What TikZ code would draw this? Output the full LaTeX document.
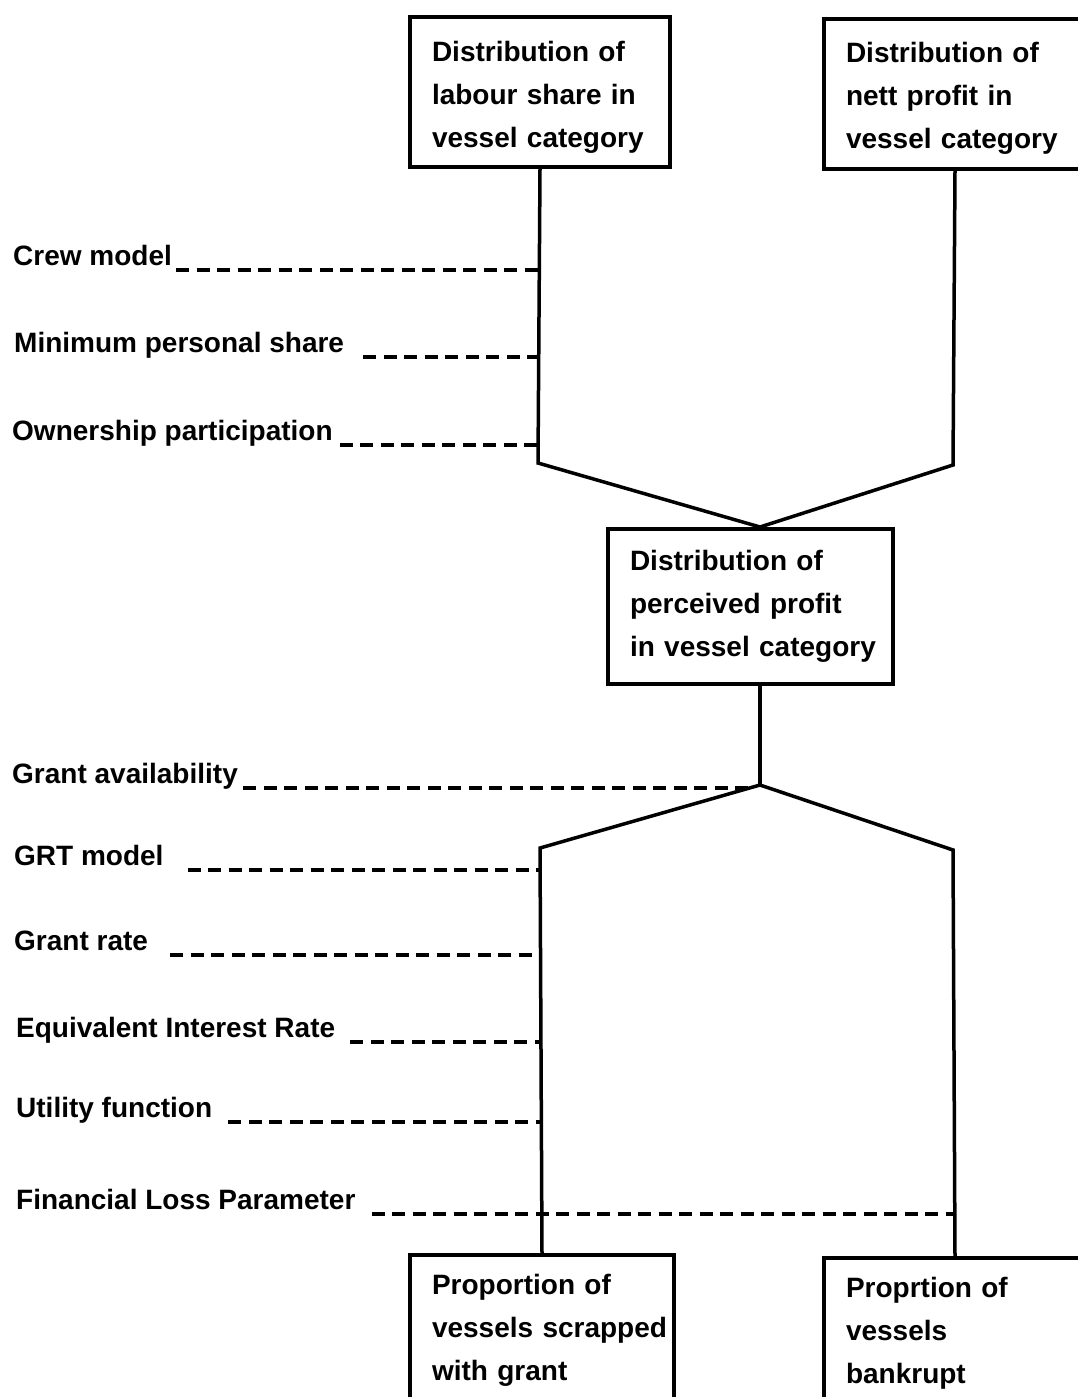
\documentclass[tikz,border=0pt]{standalone}
\usepackage{fontspec}
\setmainfont{Liberation Sans}
\hfuzz=100pt
\hbadness=10000
\begin{document}
\begin{tikzpicture}[x=1pt,y=-1pt,
  box/.style={draw,line width=4pt,anchor=north west,inner xsep=22pt,inner ysep=0pt,
    text width=#1,align=left,font=\bfseries\fontsize{28}{43}\selectfont},
  lab/.style={anchor=base west,inner sep=0pt,font=\bfseries\fontsize{28}{34}\selectfont},
  conn/.style={line width=3.5pt,line join=miter},
  dashline/.style={line width=4pt,dash pattern=on 13pt off 7.5pt}]
\useasboundingbox[fill=white] (0,0) rectangle (1077,1397);

% boxes
\node[box=216pt,minimum height=150pt] (A) at (408,15) {\mbox{\rule{0pt}{30pt}Distribution of}\\\mbox{labour share in}\\\mbox{vessel category}};
\node[box=218pt,minimum height=150pt] (B) at (822,17) {\mbox{\rule{0pt}{28pt}Distribution of}\\\mbox{nett profit in}\\\mbox{vessel category}};
\node[box=241pt,minimum height=155pt] (M) at (606,527) {\mbox{Distribution of}\\\mbox{perceived profit}\\\mbox{in vessel category}};
\node[box=220pt,minimum height=150pt] (L) at (408,1253) {\mbox{Proportion of}\\\mbox{vessels scrapped}\\\mbox{with grant}};
\node[box=218pt,minimum height=150pt] (R) at (822,1256) {\mbox{Proprtion of}\\\mbox{vessels}\\\mbox{bankrupt}};

% junctions
\coordinate (mx) at (760,0);
\coordinate (jA) at (538,463);
\coordinate (jB) at (953,465);
\coordinate (jD) at (760,785);
\coordinate (jL) at (540,848);
\coordinate (jR) at (953,850);

\draw[conn] (A.south) -- (jA) -- (mx |- M.north);
\draw[conn] (B.south) -- (jB) -- (mx |- M.north);
\draw[conn] (mx |- M.south) -- (jD);
\draw[conn] (jD) -- (jL) -- (L.north);
\draw[conn] (jD) -- (jR) -- (R.north);

% labels
\node[lab] (l1) at (13,265) {Crew model};
\node[lab] (l2) at (14,352) {Minimum personal share};
\node[lab] (l3) at (12,440) {Ownership participation};
\node[lab] (l4) at (12,783) {Grant availability};
\node[lab] (l5) at (14,865) {GRT model};
\node[lab] (l6) at (14,950) {Grant rate};
\node[lab] (l7) at (16,1037) {Equivalent Interest Rate};
\node[lab] (l8) at (16,1117) {Utility function};
\node[lab] (l9) at (16,1209) {Financial Loss Parameter};

\path ([shift={(4pt,-5pt)}]l1.base east) coordinate (d1);
\path ([shift={(19pt,-5pt)}]l2.base east) coordinate (d2);
\path ([shift={(7pt,-5pt)}]l3.base east) coordinate (d3);
\path ([shift={(5pt,-5pt)}]l4.base east) coordinate (d4);
\path ([shift={(24pt,-5pt)}]l5.base east) coordinate (d5);
\path ([shift={(22pt,-5pt)}]l6.base east) coordinate (d6);
\path ([shift={(15pt,-5pt)}]l7.base east) coordinate (d7);
\path ([shift={(16pt,-5pt)}]l8.base east) coordinate (d8);
\path ([shift={(16pt,-5pt)}]l9.base east) coordinate (d9);
\coordinate (d4e) at (748,788);

\draw[dashline] (d1) -- (d1 -| jA);
\draw[dashline] (d2) -- (d2 -| jA);
\draw[dashline] (d3) -- (d3 -| jA);
\draw[dashline] (d4) -- (d4 -| d4e);
\draw[dashline] (d5) -- (d5 -| jL);
\draw[dashline] (d6) -- (d6 -| jL);
\draw[dashline] (d7) -- (d7 -| jL);
\draw[dashline] (d8) -- (d8 -| jL);
\draw[dashline] (d9) -- (d9 -| jR);
\end{tikzpicture}
\end{document}
